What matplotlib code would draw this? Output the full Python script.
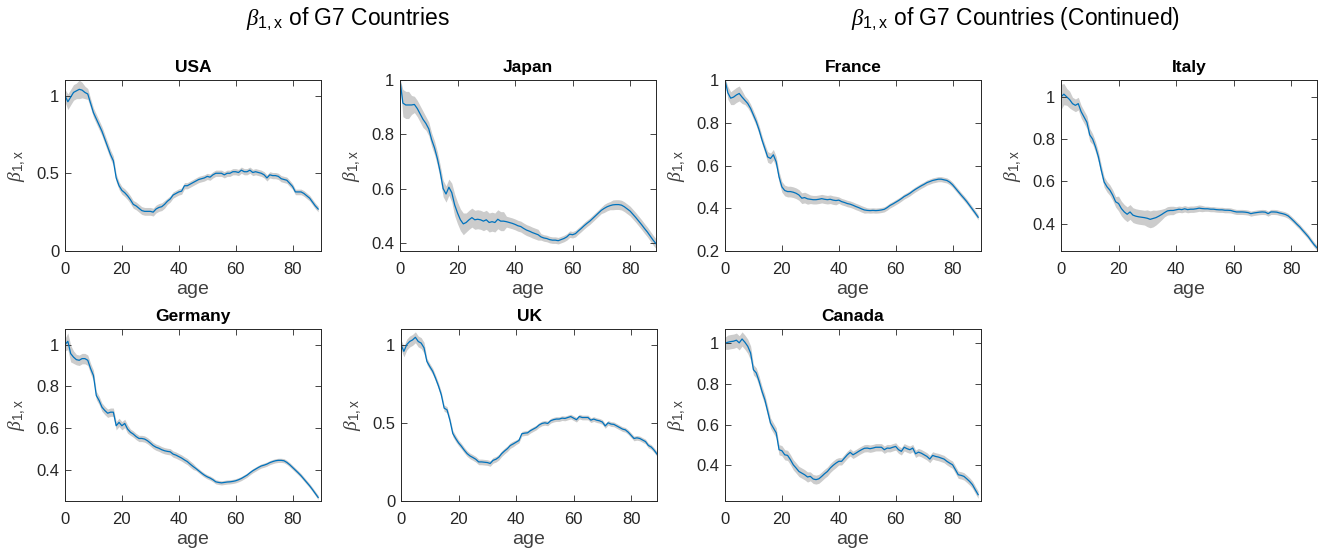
import matplotlib
matplotlib.use("Agg")
import matplotlib.pyplot as plt
import numpy as np
from matplotlib.ticker import FuncFormatter

plt.rcParams['font.family'] = ['Liberation Sans', 'DejaVu Sans']
plt.rcParams['mathtext.fontset'] = 'custom'
plt.rcParams['mathtext.it'] = 'Liberation Serif:italic'
plt.rcParams['mathtext.rm'] = 'Liberation Sans'

ages = list(range(90))

usa = [1.0, 0.96, 0.99, 1.02, 1.03, 1.04, 1.035, 1.02, 1.01, 0.95,
       0.89, 0.85, 0.81, 0.77, 0.72, 0.67, 0.62, 0.58, 0.47, 0.42,
       0.39, 0.375, 0.355, 0.33, 0.30, 0.29, 0.275, 0.26, 0.255, 0.255,
       0.255, 0.25, 0.27, 0.28, 0.285, 0.30, 0.32, 0.335, 0.36, 0.37,
       0.38, 0.385, 0.42, 0.42, 0.43, 0.44, 0.45, 0.46, 0.465, 0.47,
       0.48, 0.475, 0.49, 0.50, 0.50, 0.50, 0.49, 0.50, 0.50, 0.51,
       0.51, 0.505, 0.52, 0.51, 0.51, 0.52, 0.505, 0.51, 0.505, 0.50,
       0.49, 0.47, 0.49, 0.485, 0.485, 0.48, 0.465, 0.46, 0.455, 0.435,
       0.415, 0.38, 0.38, 0.38, 0.37, 0.355, 0.34, 0.315, 0.29, 0.27]
usa_band = [0.04, 0.05, 0.05, 0.05, 0.05, 0.06, 0.05, 0.04, 0.035, 0.03,
            0.03, 0.03, 0.03, 0.03, 0.03, 0.03, 0.03, 0.03, 0.025, 0.025,
            0.025, 0.025, 0.025, 0.025, 0.025, 0.025, 0.025, 0.025, 0.025, 0.025,
            0.025, 0.025, 0.025, 0.025, 0.025, 0.025, 0.02, 0.02, 0.02, 0.02,
            0.02, 0.02, 0.02, 0.02, 0.02, 0.02, 0.02, 0.02, 0.02, 0.02,
            0.02, 0.02, 0.02, 0.02, 0.02, 0.02, 0.02, 0.02, 0.02, 0.02,
            0.02, 0.02, 0.02, 0.02, 0.02, 0.02, 0.02, 0.02, 0.02, 0.02,
            0.02, 0.02, 0.02, 0.02, 0.02, 0.02, 0.02, 0.02, 0.02, 0.02,
            0.018, 0.018, 0.018, 0.018, 0.018, 0.018, 0.018, 0.018, 0.018, 0.018]

japan = [1.0, 0.915, 0.908, 0.908, 0.908, 0.91, 0.895, 0.875, 0.855, 0.84,
         0.82, 0.78, 0.75, 0.71, 0.66, 0.60, 0.58, 0.605, 0.585, 0.54,
         0.51, 0.485, 0.47, 0.475, 0.485, 0.493, 0.485, 0.487, 0.485, 0.48,
         0.485, 0.475, 0.478, 0.475, 0.487, 0.48, 0.48, 0.478, 0.475, 0.472,
         0.468, 0.463, 0.46, 0.453, 0.447, 0.443, 0.438, 0.434, 0.43, 0.422,
         0.418, 0.416, 0.412, 0.41, 0.41, 0.408, 0.412, 0.416, 0.422, 0.432,
         0.43, 0.434, 0.444, 0.453, 0.463, 0.472, 0.48, 0.49, 0.50, 0.51,
         0.52, 0.527, 0.533, 0.537, 0.54, 0.541, 0.541, 0.539, 0.533, 0.525,
         0.517, 0.505, 0.493, 0.48, 0.467, 0.453, 0.44, 0.425, 0.41, 0.397]
japan_band = [0.005, 0.05, 0.05, 0.05, 0.035, 0.03, 0.03, 0.03, 0.03, 0.025,
              0.025, 0.025, 0.025, 0.025, 0.025, 0.03, 0.03, 0.03, 0.035, 0.04,
              0.04, 0.04, 0.04, 0.035, 0.035, 0.035, 0.035, 0.035, 0.035, 0.035,
              0.035, 0.035, 0.035, 0.035, 0.035, 0.035, 0.035, 0.02, 0.02, 0.02,
              0.02, 0.02, 0.02, 0.02, 0.02, 0.02, 0.02, 0.02, 0.02, 0.012,
              0.012, 0.012, 0.012, 0.012, 0.012, 0.012, 0.012, 0.012, 0.012, 0.012,
              0.012, 0.012, 0.012, 0.012, 0.012, 0.012, 0.012, 0.012, 0.012, 0.012,
              0.012, 0.015, 0.015, 0.015, 0.018, 0.018, 0.018, 0.018, 0.018, 0.018,
              0.018, 0.018, 0.018, 0.018, 0.018, 0.018, 0.018, 0.018, 0.018, 0.018]

france = [1.0, 0.94, 0.915, 0.92, 0.93, 0.937, 0.92, 0.905, 0.89, 0.867,
          0.836, 0.805, 0.766, 0.72, 0.68, 0.64, 0.633, 0.65, 0.617, 0.547,
          0.50, 0.483, 0.478, 0.478, 0.475, 0.47, 0.462, 0.447, 0.45, 0.444,
          0.442, 0.44, 0.44, 0.442, 0.445, 0.442, 0.44, 0.442, 0.438, 0.436,
          0.438, 0.431, 0.427, 0.422, 0.419, 0.414, 0.408, 0.403, 0.397, 0.392,
          0.39, 0.389, 0.39, 0.389, 0.39, 0.392, 0.395, 0.403, 0.413, 0.42,
          0.428, 0.436, 0.445, 0.455, 0.462, 0.47, 0.48, 0.489, 0.497, 0.505,
          0.512, 0.52, 0.525, 0.53, 0.533, 0.536, 0.536, 0.533, 0.53, 0.522,
          0.51, 0.494, 0.478, 0.462, 0.447, 0.431, 0.413, 0.395, 0.377, 0.358]
france_band = [0.01, 0.03, 0.03, 0.035, 0.035, 0.035, 0.03, 0.02, 0.02, 0.02,
               0.02, 0.02, 0.02, 0.02, 0.02, 0.025, 0.025, 0.025, 0.025, 0.025,
               0.025, 0.025, 0.025, 0.025, 0.025, 0.025, 0.025, 0.025, 0.025, 0.025,
               0.02, 0.02, 0.02, 0.02, 0.02, 0.02, 0.02, 0.02, 0.02, 0.02,
               0.015, 0.015, 0.015, 0.015, 0.015, 0.015, 0.015, 0.015, 0.015, 0.015,
               0.012, 0.012, 0.012, 0.012, 0.012, 0.012, 0.012, 0.012, 0.012, 0.012,
               0.012, 0.012, 0.012, 0.012, 0.012, 0.012, 0.012, 0.012, 0.012, 0.012,
               0.012, 0.012, 0.012, 0.012, 0.012, 0.012, 0.012, 0.012, 0.012, 0.012,
               0.012, 0.012, 0.012, 0.012, 0.012, 0.012, 0.012, 0.012, 0.012, 0.012]

italy = [1.0, 1.013, 1.0, 0.987, 0.968, 0.96, 0.968, 0.93, 0.905, 0.88,
         0.82, 0.80, 0.763, 0.716, 0.653, 0.597, 0.574, 0.558, 0.534, 0.503,
         0.495, 0.471, 0.455, 0.444, 0.455, 0.44, 0.435, 0.432, 0.43, 0.428,
         0.425, 0.42, 0.424, 0.428, 0.435, 0.443, 0.452, 0.46, 0.462, 0.462,
         0.465, 0.468, 0.466, 0.47, 0.466, 0.468, 0.468, 0.47, 0.473, 0.471,
         0.47, 0.47, 0.468, 0.468, 0.466, 0.465, 0.465, 0.463, 0.463, 0.462,
         0.458, 0.455, 0.455, 0.455, 0.454, 0.452, 0.447, 0.45, 0.452, 0.454,
         0.455, 0.454, 0.447, 0.455, 0.455, 0.454, 0.45, 0.447, 0.443, 0.436,
         0.424, 0.411, 0.397, 0.384, 0.368, 0.353, 0.337, 0.318, 0.30, 0.285]
italy_band = [0.06, 0.05, 0.04, 0.04, 0.03, 0.03, 0.03, 0.03, 0.03, 0.03,
              0.03, 0.025, 0.025, 0.025, 0.025, 0.025, 0.025, 0.025, 0.025, 0.025,
              0.035, 0.035, 0.035, 0.035, 0.035, 0.035, 0.035, 0.035, 0.035, 0.035,
              0.04, 0.04, 0.04, 0.035, 0.03, 0.025, 0.02, 0.02, 0.02, 0.02,
              0.015, 0.015, 0.015, 0.015, 0.015, 0.015, 0.015, 0.015, 0.015, 0.015,
              0.012, 0.012, 0.012, 0.012, 0.012, 0.012, 0.012, 0.012, 0.012, 0.012,
              0.012, 0.012, 0.012, 0.012, 0.012, 0.012, 0.012, 0.012, 0.012, 0.012,
              0.012, 0.012, 0.012, 0.012, 0.012, 0.012, 0.012, 0.012, 0.012, 0.012,
              0.012, 0.012, 0.012, 0.012, 0.012, 0.012, 0.012, 0.012, 0.012, 0.012]

germany = [1.0, 1.016, 0.957, 0.94, 0.928, 0.925, 0.933, 0.933, 0.925, 0.885,
           0.852, 0.756, 0.732, 0.70, 0.684, 0.671, 0.676, 0.676, 0.611, 0.627,
           0.611, 0.622, 0.595, 0.58, 0.571, 0.559, 0.55, 0.55, 0.547, 0.539,
           0.528, 0.516, 0.508, 0.503, 0.496, 0.491, 0.488, 0.486, 0.475, 0.47,
           0.463, 0.456, 0.447, 0.439, 0.427, 0.416, 0.406, 0.395, 0.384, 0.374,
           0.366, 0.36, 0.352, 0.342, 0.339, 0.337, 0.339, 0.341, 0.342, 0.344,
           0.347, 0.352, 0.358, 0.366, 0.374, 0.385, 0.395, 0.403, 0.411, 0.418,
           0.422, 0.427, 0.434, 0.439, 0.443, 0.445, 0.445, 0.443, 0.435, 0.424,
           0.411, 0.398, 0.385, 0.371, 0.355, 0.339, 0.323, 0.305, 0.286, 0.267]
germany_band = [0.03, 0.04, 0.04, 0.03, 0.025, 0.025, 0.025, 0.025, 0.025, 0.025,
                0.025, 0.02, 0.02, 0.02, 0.02, 0.02, 0.02, 0.02, 0.02, 0.02,
                0.02, 0.02, 0.02, 0.015, 0.015, 0.015, 0.015, 0.015, 0.015, 0.015,
                0.015, 0.015, 0.015, 0.015, 0.015, 0.015, 0.015, 0.015, 0.015, 0.015,
                0.015, 0.015, 0.015, 0.015, 0.015, 0.015, 0.01, 0.01, 0.01, 0.01,
                0.01, 0.01, 0.01, 0.01, 0.01, 0.01, 0.01, 0.01, 0.01, 0.01,
                0.01, 0.01, 0.01, 0.01, 0.01, 0.01, 0.01, 0.01, 0.01, 0.01,
                0.01, 0.01, 0.01, 0.01, 0.01, 0.01, 0.01, 0.01, 0.01, 0.01,
                0.01, 0.01, 0.01, 0.01, 0.01, 0.01, 0.01, 0.01, 0.01, 0.01]

uk = [1.0, 0.957, 1.0, 1.02, 1.03, 1.047, 1.02, 1.01, 0.98, 0.893,
      0.86, 0.83, 0.786, 0.737, 0.68, 0.594, 0.583, 0.517, 0.432, 0.40,
      0.372, 0.35, 0.325, 0.303, 0.288, 0.278, 0.267, 0.25, 0.25, 0.248,
      0.246, 0.24, 0.26, 0.267, 0.28, 0.303, 0.32, 0.335, 0.355, 0.365,
      0.376, 0.387, 0.43, 0.434, 0.436, 0.45, 0.46, 0.47, 0.486, 0.496,
      0.50, 0.496, 0.513, 0.52, 0.524, 0.524, 0.53, 0.528, 0.534, 0.54,
      0.53, 0.52, 0.54, 0.534, 0.534, 0.534, 0.517, 0.524, 0.517, 0.513,
      0.505, 0.48, 0.50, 0.492, 0.49, 0.48, 0.47, 0.46, 0.455, 0.44,
      0.42, 0.40, 0.404, 0.40, 0.39, 0.38, 0.355, 0.345, 0.325, 0.30]
uk_band = [0.03, 0.035, 0.035, 0.035, 0.035, 0.035, 0.035, 0.035, 0.035, 0.02,
           0.02, 0.02, 0.02, 0.02, 0.02, 0.02, 0.02, 0.02, 0.02, 0.02,
           0.018, 0.018, 0.018, 0.018, 0.018, 0.018, 0.018, 0.018, 0.018, 0.018,
           0.018, 0.018, 0.018, 0.018, 0.018, 0.018, 0.018, 0.018, 0.018, 0.018,
           0.015, 0.015, 0.015, 0.015, 0.015, 0.015, 0.015, 0.015, 0.015, 0.015,
           0.015, 0.015, 0.015, 0.015, 0.015, 0.015, 0.015, 0.015, 0.015, 0.015,
           0.015, 0.015, 0.015, 0.015, 0.015, 0.015, 0.015, 0.015, 0.015, 0.015,
           0.015, 0.015, 0.015, 0.015, 0.015, 0.015, 0.015, 0.015, 0.015, 0.015,
           0.015, 0.015, 0.015, 0.015, 0.015, 0.015, 0.015, 0.015, 0.015, 0.015]

canada = [1.0, 1.005, 1.008, 1.01, 1.015, 1.002, 1.021, 1.005, 0.985, 0.952,
          0.87, 0.854, 0.813, 0.764, 0.723, 0.666, 0.608, 0.584, 0.56, 0.477,
          0.472, 0.452, 0.449, 0.428, 0.403, 0.387, 0.37, 0.362, 0.354, 0.343,
          0.346, 0.333, 0.33, 0.334, 0.346, 0.359, 0.37, 0.387, 0.40, 0.411,
          0.42, 0.42, 0.436, 0.452, 0.464, 0.452, 0.46, 0.469, 0.477, 0.484,
          0.485, 0.482, 0.485, 0.489, 0.489, 0.489, 0.477, 0.485, 0.484, 0.489,
          0.493, 0.477, 0.469, 0.489, 0.482, 0.477, 0.485, 0.457, 0.465, 0.46,
          0.452, 0.444, 0.431, 0.449, 0.444, 0.441, 0.436, 0.431, 0.42, 0.411,
          0.403, 0.379, 0.354, 0.351, 0.346, 0.334, 0.321, 0.305, 0.28, 0.256]
canada_band = [0.03, 0.035, 0.035, 0.035, 0.035, 0.035, 0.035, 0.035, 0.035, 0.035,
               0.025, 0.025, 0.025, 0.025, 0.025, 0.025, 0.025, 0.025, 0.025, 0.025,
               0.025, 0.025, 0.025, 0.025, 0.025, 0.025, 0.025, 0.025, 0.025, 0.025,
               0.022, 0.022, 0.022, 0.022, 0.022, 0.022, 0.022, 0.022, 0.022, 0.022,
               0.018, 0.018, 0.018, 0.018, 0.018, 0.018, 0.018, 0.018, 0.018, 0.018,
               0.018, 0.018, 0.018, 0.018, 0.018, 0.018, 0.018, 0.018, 0.018, 0.018,
               0.018, 0.018, 0.018, 0.018, 0.018, 0.018, 0.018, 0.018, 0.018, 0.018,
               0.018, 0.018, 0.018, 0.018, 0.018, 0.018, 0.018, 0.018, 0.018, 0.018,
               0.018, 0.018, 0.018, 0.018, 0.018, 0.018, 0.018, 0.018, 0.018, 0.018]

countries = ["USA", "Japan", "France", "Italy", "Germany", "UK", "Canada"]
series = [usa, japan, france, italy, germany, uk, canada]
bands = [usa_band, japan_band, france_band, italy_band, germany_band, uk_band, canada_band]
ylims = [(0, 1.1), (0.37, 1.0), (0.2, 1.0), (0.27, 1.08), (0.25, 1.075), (0, 1.1), (0.225, 1.07)]
yticks = [[0, 0.5, 1], [0.4, 0.6, 0.8, 1], [0.2, 0.4, 0.6, 0.8, 1], [0.4, 0.6, 0.8, 1],
          [0.4, 0.6, 0.8, 1], [0, 0.5, 1], [0.4, 0.6, 0.8, 1]]
xmaxs = [90, 89, 90, 89, 90, 89, 90]
xticks = [0, 20, 40, 60, 80]
suptitles = [r'$\beta_{\mathrm{1,x}}$ of G7 Countries',
             r'$\beta_{\mathrm{1,x}}$ of G7 Countries (Continued)']

W, H = 1323, 554
fig = plt.figure(figsize=(W / 100, H / 100), dpi=100)

# pixel boxes (left, top, width, height)
boxes = [(65, 80, 256, 171), (400, 80, 256, 171), (725, 80, 256, 171), (1061, 80, 256, 171),
         (65, 329, 256, 172), (401, 329, 256, 172), (725, 329, 256, 172)]

dark = '#262626'
for name, y, b, yl, yt, xm, (l, t, w, h) in zip(countries, series, bands, ylims, yticks, xmaxs, boxes):
    ax = fig.add_axes([l / W, 1 - (t + h) / H, w / W, h / H])
    ya = np.array(y)
    ba = np.array(b)
    ax.fill_between(ages, ya - ba, ya + ba, color='#cccccc', linewidth=0)
    ax.plot(ages, ya, color='#0072BD', linewidth=0.9)
    ax.set_xlim(0, xm)
    ax.set_ylim(*yl)
    ax.set_xticks(xticks)
    ax.set_yticks(yt)
    ax.yaxis.set_major_formatter(FuncFormatter(lambda v, p: '%g' % v))
    ax.tick_params(direction='in', top=True, right=True, length=4, width=0.6,
                   colors=dark, labelsize=12)
    ax.tick_params(axis='x', pad=8)
    ax.tick_params(axis='y', pad=4)
    for s in ax.spines.values():
        s.set_color(dark)
        s.set_linewidth(0.7)
    ax.set_title(name, fontsize=12.5, fontweight='bold', pad=6, color='black')
    ax.set_xlabel('age', fontsize=14, color='#404040', labelpad=3)
    ax.set_ylabel(r'$\beta_{\mathrm{1,x}}$', fontsize=14, color='#404040', labelpad=6)

fig.text(348 / W, 1 - 26 / H, suptitles[0], ha='center', va='baseline',
         fontsize=16.5, color='black')
fig.text(1015 / W, 1 - 26 / H, suptitles[1], ha='center', va='baseline',
         fontsize=16.5, color='black')

fig.savefig('out.png', dpi=100)
